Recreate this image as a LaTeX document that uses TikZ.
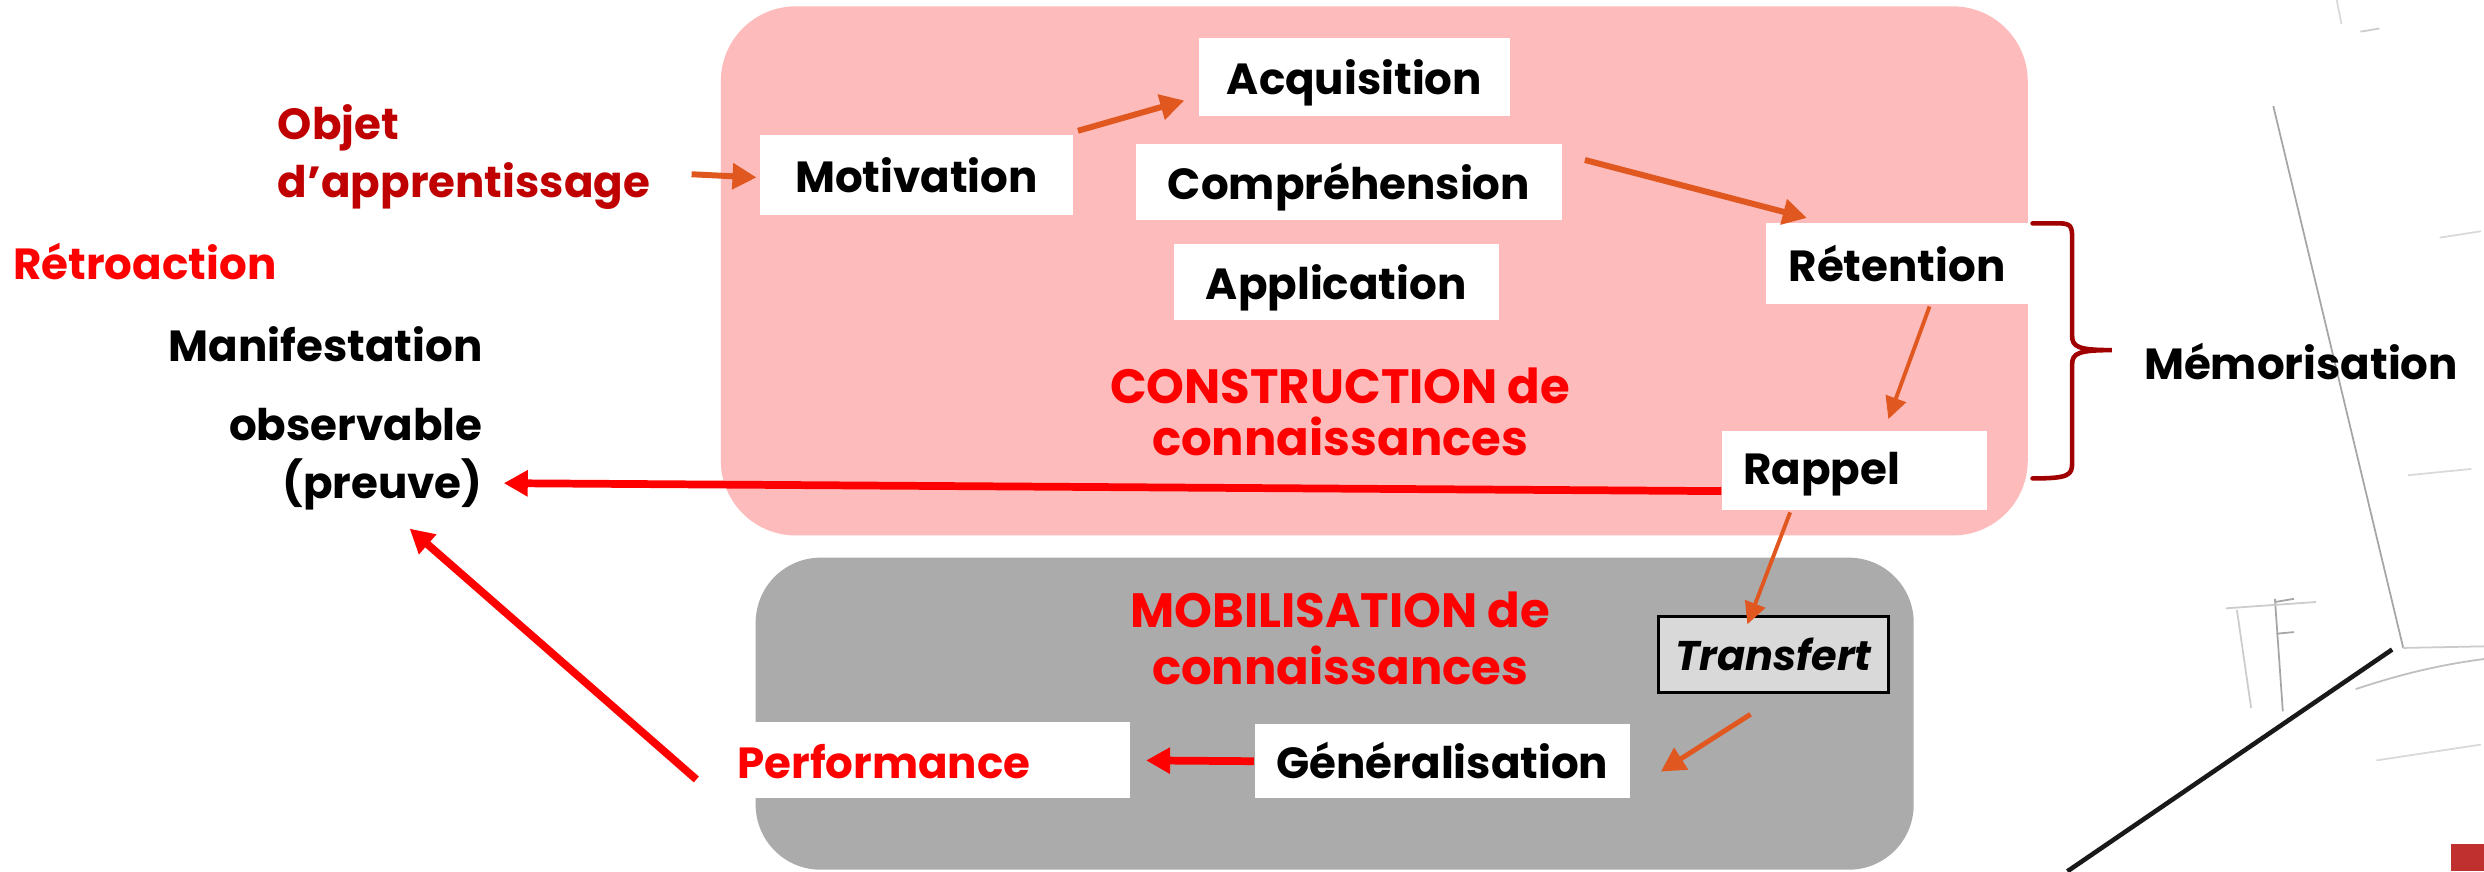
\documentclass[tikz,border=0pt]{standalone}
\usepackage{fontspec}
\setmainfont{Poppins}
\usetikzlibrary{arrows.meta,calc}
\newlength\px \setlength\px{0.1584mm}
\definecolor{pinkbg}{HTML}{FDBBBB}
\definecolor{graybg}{HTML}{ABABAB}
\definecolor{orarrow}{HTML}{E0571F}
\definecolor{darkred}{HTML}{C00000}
\definecolor{bracered}{HTML}{A00000}
\definecolor{tfill}{HTML}{D9D9D9}
\definecolor{sqred}{HTML}{C0302F}
\begin{document}
\begin{tikzpicture}[x=0.1584mm,y=-0.1584mm,
  every node/.style={font=\bfseries\fontsize{12.4}{15}\selectfont, inner sep=0pt},
  wbox/.style={fill=white, text height=10pt, text depth=0pt},
  oarr/.style={draw=orarrow, line width=1.7pt, -{Triangle[length=2.4mm,width=2.5mm]}},
  othin/.style={oarr, line width=1.1pt, -{Triangle[length=2.2mm,width=2.1mm]}},
  rarr/.style={draw=red, line width=2.2pt, -{Triangle[length=2.4mm,width=2.5mm]}},
  sketch/.style={draw=black!35, line width=0.5pt},
  redlbl/.style={text=red, align=center}]
\useasboundingbox (0,0) rectangle (1568,550);
\fill[white] (0,0) rectangle (1568,550);

% background sketch
\draw[sketch] (1435,67) -- (1517,409);
\draw[sketch, draw=black!20] (1517,409) -- (1568,408);
\draw[sketch, draw=black!25] (1487,435) .. controls (1520,424) and (1545,419) .. (1568,416);
\draw[sketch, draw=black!90, line width=1.3pt] (1305,550) -- (1510,410);
\draw[sketch] (1436,378) -- (1441,449);
\draw[sketch] (1436,380) -- (1448,378);
\draw[sketch] (1437,400) -- (1448,399);
\draw[sketch, draw=black!20] (1412,385) -- (1421,447);
\draw[sketch, draw=black!20] (1405,384) -- (1462,380);
\draw[sketch, draw=black!20] (1490,20) -- (1502,18);
\draw[sketch, draw=black!15] (1475,0) -- (1478,15);
\draw[sketch, draw=black!15] (1540,150) -- (1566,146);
\draw[sketch, draw=black!15] (1520,300) -- (1560,296);
\draw[sketch, draw=black!15] (1500,480) -- (1566,470);
\fill[sqred] (1547,533) rectangle (1568,550);

% panels
\fill[pinkbg, rounded corners=7.5mm] (455,4) rectangle (1280,338);
\fill[graybg, rounded corners=6.5mm] (477,352) rectangle (1208,549);

% boxes
\node[wbox, minimum width=197\px, minimum height=51\px] (mot) at (578.5,110.5) {Motivation};
\node[wbox, minimum width=196\px, minimum height=49\px] (acq) at (855,48.5) {Acquisition};
\node[wbox, minimum width=269\px, minimum height=48\px] (comp) at (851.5,115) {Compréhension};
\node[wbox, minimum width=205\px, minimum height=48\px] (app) at (843.5,178) {Application};
\node[wbox, minimum width=165\px, minimum height=51\px] (ret) at (1197.5,166.5) {Rétention};
\node[wbox, minimum width=167\px, minimum height=50\px] (rap) at (1170.5,297) {};
\node[anchor=west] (raptxt) at (1100,299) {Rappel};
\node[fill=tfill, draw=black, line width=0.8pt, minimum width=145\px, minimum height=48\px, text height=9.5pt, text depth=0pt] (tra) at (1119.5,413) {\itshape\fontsize{11.8}{14}\selectfont Transfert};
\node[wbox, minimum width=237\px, minimum height=47\px] (gen) at (910.5,480.5) {Généralisation};
\node[wbox, minimum width=258\px, minimum height=48\px] (perf) at (584,480) {};
\node[text=red] (perftxt) at (558,481) {Performance};

% labels
\node[text=darkred, align=left, anchor=west, font=\bfseries\fontsize{12.4}{16.5}\selectfont] (obj) at (175,99) {Objet\\d’apprentissage};
\node[text=red, anchor=west] (retro) at (8,165) {Rétroaction};
\node[anchor=east] (manif) at (305,217) {Manifestation};
\node[anchor=east, align=right, font=\bfseries\fontsize{12.4}{16.6}\selectfont] (preuve) at (305,290) {observable\\(preuve)};
\node[redlbl, font=\bfseries\fontsize{13.7}{15}\selectfont] (constr) at (846,260) {CONSTRUCTION de\\connaissances};
\node[redlbl, font=\bfseries\fontsize{13.7}{16.2}\selectfont] (mobil) at (846,403) {MOBILISATION de\\connaissances};
\node[anchor=west] (memo) at (1353,228) {Mémorisation};

% brace
\draw[draw=bracered, line width=1.3pt, line cap=round]
  (1283,141) -- (1300,141) .. controls (1307,141) and (1308,143) .. (1308,150)
  -- (1308,212) .. controls (1308,219) and (1312,221) .. (1333,221)
  .. controls (1312,221) and (1308,223) .. (1308,230)
  -- (1308,292) .. controls (1308,300) and (1306,302) .. (1283,302);

% connectors
\draw[oarr] ($(mot.west)+(-43,-0.5)$) -- ($(mot.west)+(-2,1.5)$);
\draw[oarr] ($(mot.north east)+(3,-2)$) -- ($(acq.south west)+(-9,-10)$);
\draw[oarr] ($(comp.east)+(14,-14)$) -- ($(ret.north west)+(26,-3)$);
\draw[othin] ($(ret.south)+(20.5,1)$) -- ($(rap.north)+(21.5,-7)$);
\draw[othin] ($(rap.south)+(-40.5,1)$) -- ($(tra.north)+(-16.5,6)$);
\draw[oarr, line width=1.4pt] ($(tra.south)+(-14.5,13)$) -- ($(gen.east)+(19,6.5)$);
\draw[rarr] (gen.west) -- ($(perf.east)+(10,0)$);
\draw[rarr] ($(rap.west)+(0,13)$) -- ($(preuve.east)+(13,15)$);
\draw[rarr] ($(perf.west)+(-15,12)$) -- ($(preuve.south)+(34,11)$);
\end{tikzpicture}
\end{document}
